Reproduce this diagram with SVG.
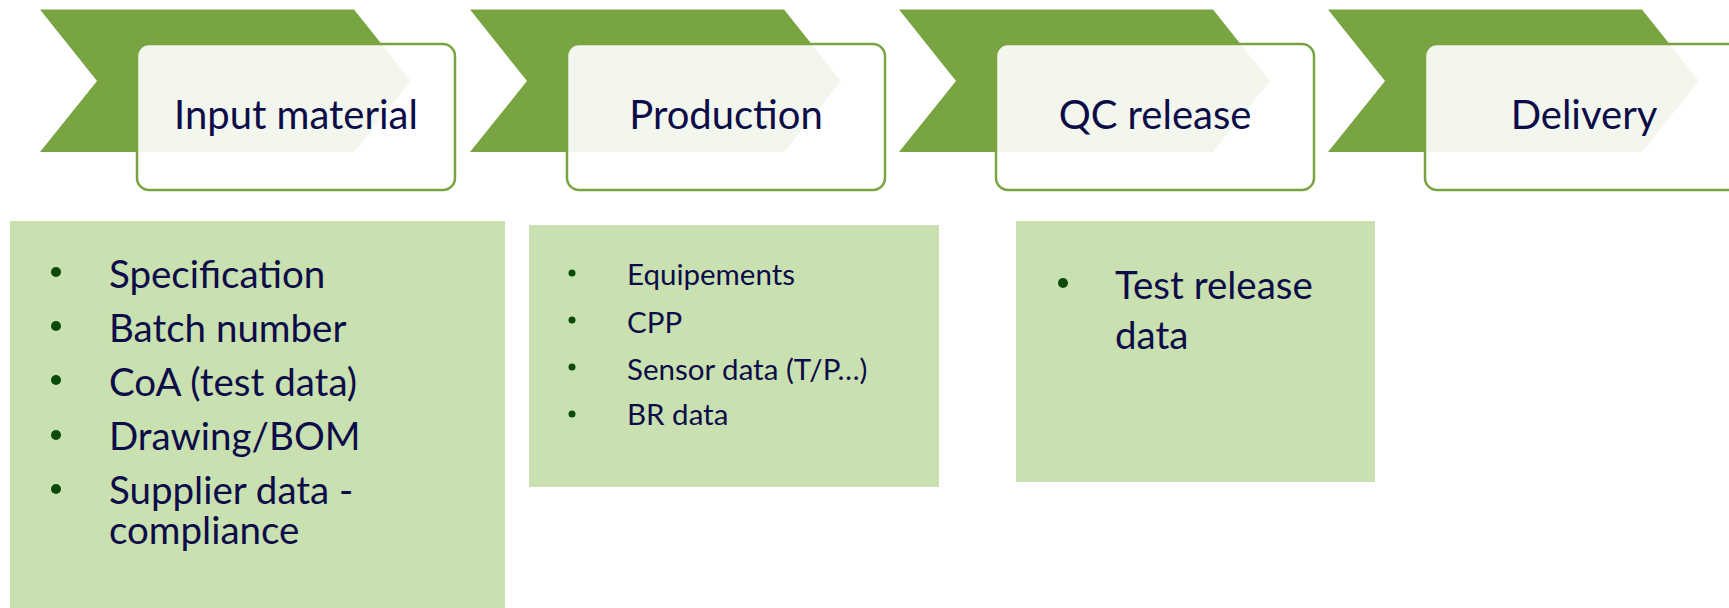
<svg xmlns="http://www.w3.org/2000/svg" width="1729" height="608" viewBox="0 0 1729 608">
<style>
.chev{fill:#78a541}
.card{fill:#ffffff;fill-opacity:0.9;stroke:#78a541;stroke-width:2.5}
.title{font-family:Lato,"Liberation Sans",sans-serif;font-size:40px;fill:#0c0c48;text-anchor:middle}
.box{fill:#c9e0b0}
.li{font-family:Lato,"Liberation Sans",sans-serif;font-size:38.5px;fill:#0c0c48}
.ls{font-family:Lato,"Liberation Sans",sans-serif;font-size:29.5px;fill:#0c0c48}
.dot{fill:#0a4a0a}
</style>
<rect width="1729" height="608" fill="#ffffff"/>
<g id="step-input">
<polygon class="chev" points="40,9.5 354,9.5 411,81 354,152 40,152 97,81"/>
<rect class="card" x="137" y="44" width="318" height="146" rx="12"/>
<text class="title" x="296" y="129">Input material</text>
</g>
<g id="step-production">
<polygon class="chev" points="470,9.5 784,9.5 841,81 784,152 470,152 527,81"/>
<rect class="card" x="567" y="44" width="318" height="146" rx="12"/>
<text class="title" x="726" y="129">Production</text>
</g>
<g id="step-qc">
<polygon class="chev" points="899,9.5 1213,9.5 1270,81 1213,152 899,152 956,81"/>
<rect class="card" x="996" y="44" width="318" height="146" rx="12"/>
<text class="title" x="1155" y="129">QC release</text>
</g>
<g id="step-delivery">
<polygon class="chev" points="1328,9.5 1642,9.5 1699,81 1642,152 1328,152 1385,81"/>
<rect class="card" x="1425" y="44" width="318" height="146" rx="12"/>
<text class="title" x="1584" y="129">Delivery</text>
</g>
<g id="box-input">
<rect class="box" x="10" y="221" width="495" height="390"/>
<circle class="dot" cx="56" cy="272" r="5"/>
<circle class="dot" cx="56" cy="326" r="5"/>
<circle class="dot" cx="56" cy="380" r="5"/>
<circle class="dot" cx="56" cy="435" r="5"/>
<circle class="dot" cx="56" cy="489" r="5"/>
<text class="li" x="109" y="288">Specification</text>
<text class="li" x="109" y="342">Batch number</text>
<text class="li" x="109" y="396">CoA (test data)</text>
<text class="li" x="109" y="450">Drawing/BOM</text>
<text class="li" x="109" y="504">Supplier data -<tspan x="109" y="544">compliance</tspan></text>
</g>
<g id="box-production">
<rect class="box" x="529" y="225" width="410" height="262"/>
<circle class="dot" cx="572" cy="273" r="3.5"/>
<circle class="dot" cx="572" cy="320" r="3.5"/>
<circle class="dot" cx="572" cy="367" r="3.5"/>
<circle class="dot" cx="572" cy="414" r="3.5"/>
<text class="ls" x="627" y="285">Equipements</text>
<text class="ls" x="627" y="333">CPP</text>
<text class="ls" x="627" y="380">Sensor data (T/P…)</text>
<text class="ls" x="627" y="425">BR data</text>
</g>
<g id="box-qc">
<rect class="box" x="1016" y="221" width="359" height="261"/>
<circle class="dot" cx="1063" cy="283" r="5"/>
<text class="li" x="1115" y="299">Test release<tspan x="1115" y="349">data</tspan></text>
</g>
</svg>
